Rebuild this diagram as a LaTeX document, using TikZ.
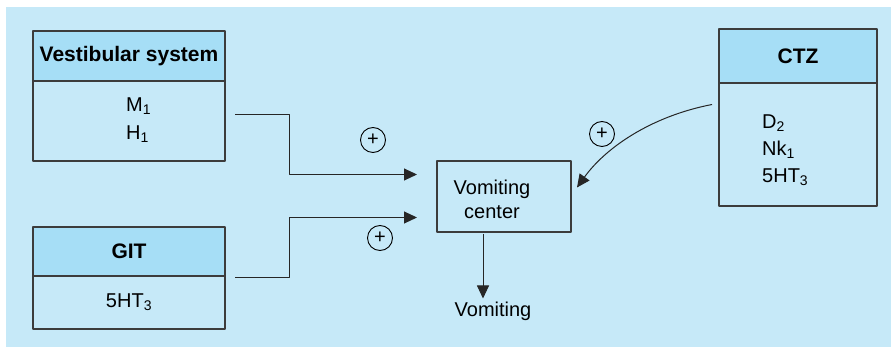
\documentclass[tikz,border=0pt]{standalone}
\usepackage{fontspec}
\setmainfont{Liberation Sans}
\usetikzlibrary{arrows.meta,positioning}
\definecolor{bgblue}{RGB}{198,233,248}
\definecolor{hdblue}{RGB}{166,222,246}
\definecolor{edgegray}{RGB}{60,60,60}
\begin{document}
\begin{tikzpicture}[x=1pt, y=-1pt, font=\fontsize{20}{28}\selectfont, line join=round, >={Triangle[length=13pt,width=12pt]},
	head/.style={draw=edgegray, fill=hdblue, line width=1.1pt, outer sep=0pt, inner sep=0pt, font=\fontsize{21}{25}\selectfont\bfseries},
	body/.style={draw=edgegray, line width=1.1pt, outer sep=0pt, inner sep=0pt},
	txt/.style={inner sep=0pt},
	plus/.style={circle, draw, line width=0.9pt, minimum size=25pt, inner sep=0pt, font=\fontsize{20}{20}\selectfont},
	flow/.style={->, line width=1pt, draw=black!85}]
	\useasboundingbox (0,0) rectangle (891,347);
	\fill[bgblue] (6,7) rectangle (891,347);
	% receptor boxes
	\node[head, minimum width=192pt, minimum height=50pt] (vesth) at (129,56) {Vestibular system};
	\node[body, minimum width=192pt, minimum height=80pt, below=0pt of vesth] (vestb) {};
	\node[txt, anchor=west, align=left] (vesttxt) at (126,120) {M\textsubscript{1}\\H\textsubscript{1}};
	\node[head, minimum width=192pt, minimum height=49pt] (gith) at (129,251.5) {GIT};
	\node[body, minimum width=192pt, minimum height=53pt, below=0pt of gith] (gitb) {5HT\textsubscript{3}};
	\node[head, minimum width=158pt, minimum height=54pt] (ctzh) at (798,56) {CTZ};
	\node[body, minimum width=158pt, minimum height=123pt, below=0pt of ctzh] (ctzb) {};
	\node[txt, anchor=west, align=left, font=\fontsize{20}{27}\selectfont] (ctztxt) at (762,150) {D\textsubscript{2}\\Nk\textsubscript{1}\\5HT\textsubscript{3}};
	% centre
	\node[body, minimum width=134pt, minimum height=71pt] (vc) at (504,196.5) {};
	\node[txt, align=center, font=\fontsize{20}{24}\selectfont] (vctxt) at (492,199) {Vomiting\\center};
	\node[txt] (vomit) at (493,311) {Vomiting};
	\node[plus] (p1) at (373,140) {+};
	\node[plus] (p2) at (380,238) {+};
	\node[plus] (p3) at (602,134) {+};
	\draw[flow] ([xshift=10pt,yshift=6pt]vestb.east) -- ++(54,0) |- ([xshift=-20pt,yshift=22pt]vc.west);
	\draw[flow] ([xshift=10pt,yshift=25pt]gitb.east) -- ++(54,0) |- ([xshift=-20pt,yshift=-21pt]vc.west);
	\draw[flow] ([xshift=-7pt,yshift=40pt]ctzb.west) .. controls +(-62,12) and +(28,-39) .. ([xshift=6pt,yshift=9pt]vc.east);
	\draw[flow] ([xshift=-21pt,yshift=-2pt]vc.south) -- ([xshift=-10pt,yshift=3pt]vomit.north);
\end{tikzpicture}
\end{document}
